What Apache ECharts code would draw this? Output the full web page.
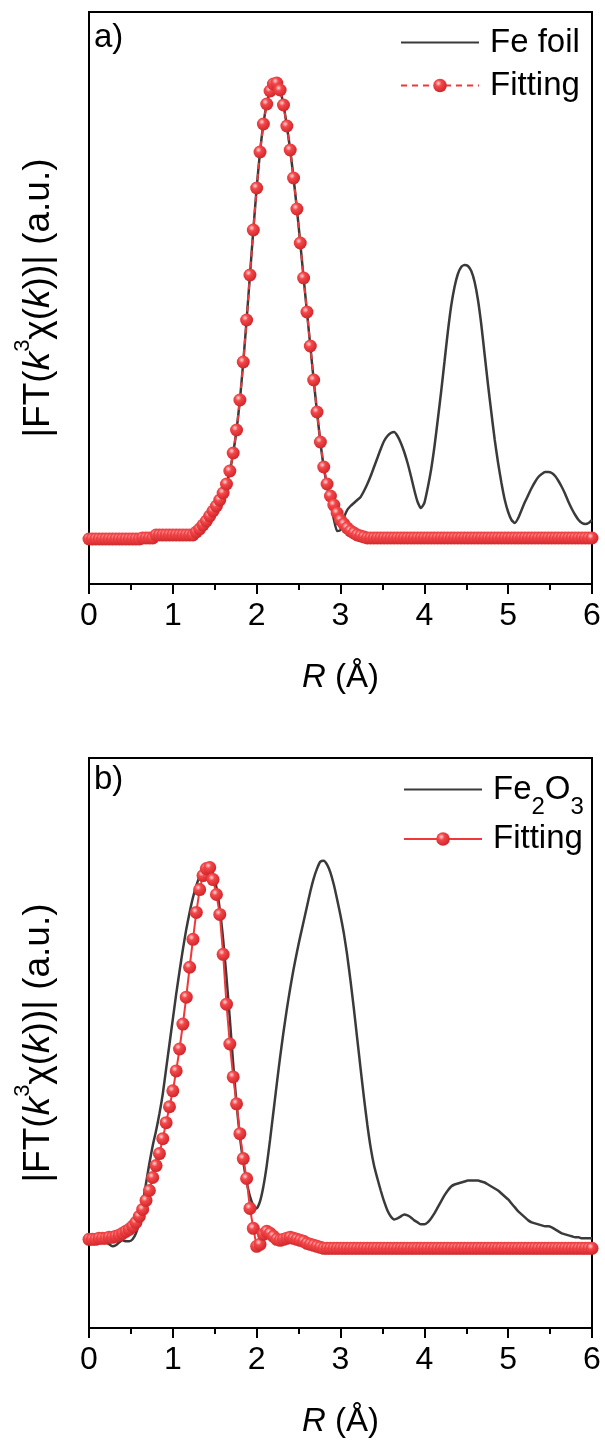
<!DOCTYPE html>
<html>
<head>
<meta charset="utf-8">
<script src="https://cdn.jsdelivr.net/npm/echarts@6/dist/echarts.min.js"></script>
<style>
  html, body { margin: 0; padding: 0; background: #ffffff; }
  #wrap { position: relative; width: 605px; height: 1443px; }
  #chartA { position: absolute; left: 0; top: 0; width: 605px; height: 722px; }
  #chartB { position: absolute; left: 0; top: 722px; width: 605px; height: 721px; }
</style>
</head>
<body>
<div id="wrap">
  <div id="chartA"></div>
  <div id="chartB"></div>
</div>
<script>
// R grid spacing of the Fourier-transformed spectra (Å)
const R_STEP = 0.04;
const xTickValues = [0, 1, 2, 3, 4, 5, 6];

// |FT(k^3 chi(k))| of Fe foil, sampled on the R grid
const feFoil = [
  0.92,0.92,0.92,0.92,0.92,0.92,0.92,0.92,0.92,0.94,
  0.94,0.94,0.94,0.94,0.96,0.96,0.96,0.98,0.98,1.00,
  1.00,1.00,1.00,1.00,0.98,0.98,1.00,1.00,1.02,1.00,
  1.00,1.00,1.04,1.10,1.18,1.26,1.36,1.46,1.56,1.68,
  1.82,2.00,2.26,2.62,3.08,3.68,4.44,5.28,6.18,7.08,
  7.92,8.64,9.20,9.60,9.86,10.00,10.02,9.88,9.58,9.16,
  8.68,8.12,7.50,6.82,6.12,5.44,4.76,4.08,3.44,2.84,
  2.34,1.96,1.62,1.30,1.06,1.08,1.32,1.48,1.56,1.62,
  1.68,1.74,1.86,2.00,2.16,2.34,2.52,2.70,2.86,2.96,
  3.02,3.04,2.96,2.82,2.64,2.42,2.16,1.88,1.64,1.52,
  1.62,1.92,2.28,2.74,3.28,3.84,4.44,5.04,5.56,5.94,
  6.20,6.34,6.38,6.36,6.26,6.04,5.68,5.18,4.58,3.98,
  3.42,2.88,2.42,2.02,1.68,1.44,1.28,1.22,1.32,1.48,
  1.64,1.78,1.92,2.04,2.14,2.20,2.24,2.24,2.22,2.16,
  2.06,1.94,1.80,1.64,1.50,1.38,1.28,1.22,1.20,1.22,
  1.28
];

// First-shell fit of Fe foil
const feFoilFit = [
  0.90,0.90,0.90,0.90,0.90,0.90,0.90,0.90,0.90,0.90,
  0.90,0.90,0.90,0.90,0.90,0.90,0.92,0.92,0.92,0.92,
  0.98,0.98,0.98,0.98,0.98,0.98,0.98,0.98,0.98,0.98,
  0.98,0.98,1.04,1.10,1.18,1.26,1.36,1.46,1.56,1.68,
  1.82,2.00,2.26,2.62,3.08,3.68,4.44,5.28,6.18,7.08,
  7.92,8.64,9.20,9.60,9.86,10.00,10.02,9.88,9.58,9.16,
  8.68,8.12,7.50,6.82,6.12,5.44,4.76,4.08,3.44,2.84,
  2.34,2.00,1.76,1.58,1.42,1.28,1.20,1.12,1.06,1.02,
  0.98,0.96,0.94,0.92,0.92,0.92,0.92,0.92,0.92,0.92,
  0.92,0.92,0.92,0.92,0.92,0.92,0.92,0.92,0.92,0.92,
  0.92,0.92,0.92,0.92,0.92,0.92,0.92,0.92,0.92,0.92,
  0.92,0.92,0.92,0.92,0.92,0.92,0.92,0.92,0.92,0.92,
  0.92,0.92,0.92,0.92,0.92,0.92,0.92,0.92,0.92,0.92,
  0.92,0.92,0.92,0.92,0.92,0.92,0.92,0.92,0.92,0.92,
  0.92,0.92,0.92,0.92,0.92,0.92,0.92,0.92,0.92,0.92,
  0.92
];

// |FT(k^3 chi(k))| of Fe2O3
const fe2o3 = [
  1.84,1.84,1.82,1.80,1.78,1.74,1.68,1.64,1.66,1.72,
  1.76,1.74,1.74,1.78,1.90,2.12,2.50,2.90,3.30,3.66,
  3.96,4.30,4.70,5.20,5.70,6.20,6.70,7.16,7.60,8.00,
  8.34,8.64,8.88,9.06,9.18,9.24,9.24,9.12,8.84,8.40,
  7.80,7.04,6.20,5.30,4.50,3.84,3.34,2.94,2.64,2.46,
  2.40,2.54,2.84,3.26,3.78,4.34,4.90,5.44,5.94,6.40,
  6.82,7.20,7.54,7.86,8.16,8.46,8.76,9.02,9.22,9.36,
  9.38,9.30,9.14,8.90,8.60,8.28,7.92,7.48,6.96,6.40,
  5.80,5.20,4.62,4.08,3.62,3.26,3.00,2.76,2.54,2.36,
  2.24,2.18,2.20,2.24,2.28,2.26,2.22,2.16,2.12,2.08,
  2.08,2.12,2.20,2.30,2.42,2.54,2.66,2.76,2.84,2.88,
  2.90,2.92,2.94,2.96,2.96,2.96,2.96,2.94,2.92,2.88,
  2.84,2.80,2.76,2.70,2.64,2.58,2.50,2.42,2.34,2.28,
  2.22,2.16,2.12,2.10,2.08,2.06,2.04,2.04,2.02,1.98,
  1.94,1.90,1.88,1.86,1.84,1.82,1.82,1.80,1.80,1.80,
  1.80
];

// First-shell fit of Fe2O3
const fe2o3Fit = [
  1.78,1.78,1.78,1.80,1.80,1.80,1.82,1.82,1.84,1.86,
  1.90,1.94,1.98,2.04,2.12,2.24,2.38,2.56,2.76,3.02,
  3.26,3.50,3.80,4.12,4.44,4.76,5.16,5.60,6.10,6.64,
  7.24,7.80,8.34,8.80,9.08,9.22,9.24,9.00,8.70,8.30,
  7.50,6.50,5.70,5.04,4.50,3.90,3.40,3.00,2.40,2.00,
  1.64,1.68,1.88,1.94,1.90,1.84,1.78,1.76,1.78,1.80,
  1.82,1.80,1.78,1.76,1.74,1.70,1.68,1.66,1.64,1.62,
  1.60,1.60,1.60,1.60,1.60,1.60,1.60,1.60,1.60,1.60,
  1.60,1.60,1.60,1.60,1.60,1.60,1.60,1.60,1.60,1.60,
  1.60,1.60,1.60,1.60,1.60,1.60,1.60,1.60,1.60,1.60,
  1.60,1.60,1.60,1.60,1.60,1.60,1.60,1.60,1.60,1.60,
  1.60,1.60,1.60,1.60,1.60,1.60,1.60,1.60,1.60,1.60,
  1.60,1.60,1.60,1.60,1.60,1.60,1.60,1.60,1.60,1.60,
  1.60,1.60,1.60,1.60,1.60,1.60,1.60,1.60,1.60,1.60,
  1.60,1.60,1.60,1.60,1.60,1.60,1.60,1.60,1.60,1.60,
  1.60
];

const FONT = '"Liberation Sans", Arial, Helvetica, sans-serif';
const BLACK_LINE = '#3a3a3a';
const RED = '#f0373a';

// shaded red ball used for the fit markers
const ball = {
  type: 'radial', x: 0.38, y: 0.34, r: 0.72,
  colorStops: [
    { offset: 0, color: '#ffd6d6' },
    { offset: 0.32, color: '#f4474a' },
    { offset: 1, color: '#cc2226' }
  ]
};

function toPairs(values) {
  return values.map((v, i) => [Number((i * R_STEP).toFixed(2)), v]);
}

function buildOption(p) {
  return {
    animation: false,
    backgroundColor: '#ffffff',
    title: {
      text: p.tag, left: 94, top: p.tagTop, padding: 0,
      textStyle: { fontFamily: FONT, fontSize: 33, fontWeight: 'normal', color: '#000' }
    },
    legend: {
      orient: 'vertical', left: p.legendLeft, top: p.legendTop, padding: 0,
      itemWidth: 78, itemHeight: 17, itemGap: p.legendGap,
      // the measured spectrum is shown as a bare line in the key
      data: [{ name: p.refName, itemStyle: { opacity: 0 } }, 'Fitting'],
      formatter: p.legendFormatter,
      textStyle: {
        fontFamily: FONT, fontSize: 33, color: '#000', padding: [0, 0, 0, 6],
        rich: p.legendRich
      }
    },
    grid: {
      left: 89, right: 13, top: p.gridTop, height: 572,
      show: true, borderColor: '#000', borderWidth: 2, backgroundColor: 'transparent'
    },
    xAxis: {
      type: 'value', min: 0, max: 6, interval: 1,
      axisLine: { show: true, onZero: false, lineStyle: { color: '#000', width: 2 } },
      axisTick: { show: true, inside: false, length: 10, lineStyle: { color: '#000', width: 2 } },
      minorTick: { show: true, splitNumber: 2, length: 6, lineStyle: { color: '#000', width: 2 } },
      splitLine: { show: false },
      axisLabel: {
        fontFamily: FONT, fontSize: 32, color: '#000', margin: 16,
        showMinLabel: true, showMaxLabel: true,
        formatter: v => (xTickValues.indexOf(v) >= 0 ? String(v) : '')
      },
      name: '{i|R}{n| (Å)}', nameLocation: 'middle', nameGap: 77,
      nameTextStyle: {
        fontFamily: FONT, fontSize: 33, color: '#000',
        rich: {
          i: { fontFamily: FONT, fontSize: 33, fontStyle: 'italic', color: '#000' },
          n: { fontFamily: FONT, fontSize: 33, color: '#000' }
        }
      }
    },
    yAxis: {
      type: 'value', min: 0, max: 11.44,
      axisLine: { show: true, lineStyle: { color: '#000', width: 2 } },
      axisTick: { show: false }, axisLabel: { show: false }, splitLine: { show: false },
      name: '{n||FT(}{i|k}{sup|3}{n|χ(}{i|k}{n|))| (a.u.)}',
      nameLocation: 'middle', nameRotate: 90, nameGap: 23,
      nameTextStyle: {
        fontFamily: FONT, fontSize: 37, color: '#000',
        rich: {
          n: { fontFamily: FONT, fontSize: 37, color: '#000' },
          i: { fontFamily: FONT, fontSize: 37, fontStyle: 'italic', color: '#000' },
          sup: { fontFamily: FONT, fontSize: 22, color: '#000', padding: [0, 0, 32, 0] }
        }
      }
    },
    series: [
      {
        type: 'line', name: p.refName, data: toPairs(p.ref),
        symbol: 'none', smooth: 0.2, z: 2,
        lineStyle: { color: BLACK_LINE, width: 2.5 },
        itemStyle: { color: BLACK_LINE }
      },
      {
        type: 'line', name: 'Fitting', data: toPairs(p.fit),
        symbol: 'circle', symbolSize: 13, showSymbol: true, z: 3,
        lineStyle: { color: RED, width: 2, type: p.fitDash },
        itemStyle: { color: ball }
      }
    ]
  };
}

const chartA = echarts.init(document.getElementById('chartA'), null, { renderer: 'canvas' });
chartA.setOption(buildOption({
  tag: 'a)', tagTop: 21, gridTop: 12,
  refName: 'Fe foil', ref: feFoil, fit: feFoilFit, fitDash: [6, 5],
  legendLeft: 400, legendTop: 26, legendGap: 10,
  legendFormatter: name => name,
  legendRich: {}
}));

const chartB = echarts.init(document.getElementById('chartB'), null, { renderer: 'canvas' });
chartB.setOption(buildOption({
  tag: 'b)', tagTop: 41, gridTop: 36,
  refName: 'Fe2O3', ref: fe2o3, fit: fe2o3Fit, fitDash: 'solid',
  legendLeft: 403, legendTop: 51, legendGap: 3,
  legendFormatter: name => (name === 'Fe2O3' ? '{n|Fe}{s|2}{n|O}{s|3}' : '{n|' + name + '}'),
  legendRich: {
    n: { fontFamily: FONT, fontSize: 33, color: '#000' },
    s: { fontFamily: FONT, fontSize: 24, color: '#000', padding: [36, 0, 0, 0] }
  }
}));
</script>
</body>
</html>
